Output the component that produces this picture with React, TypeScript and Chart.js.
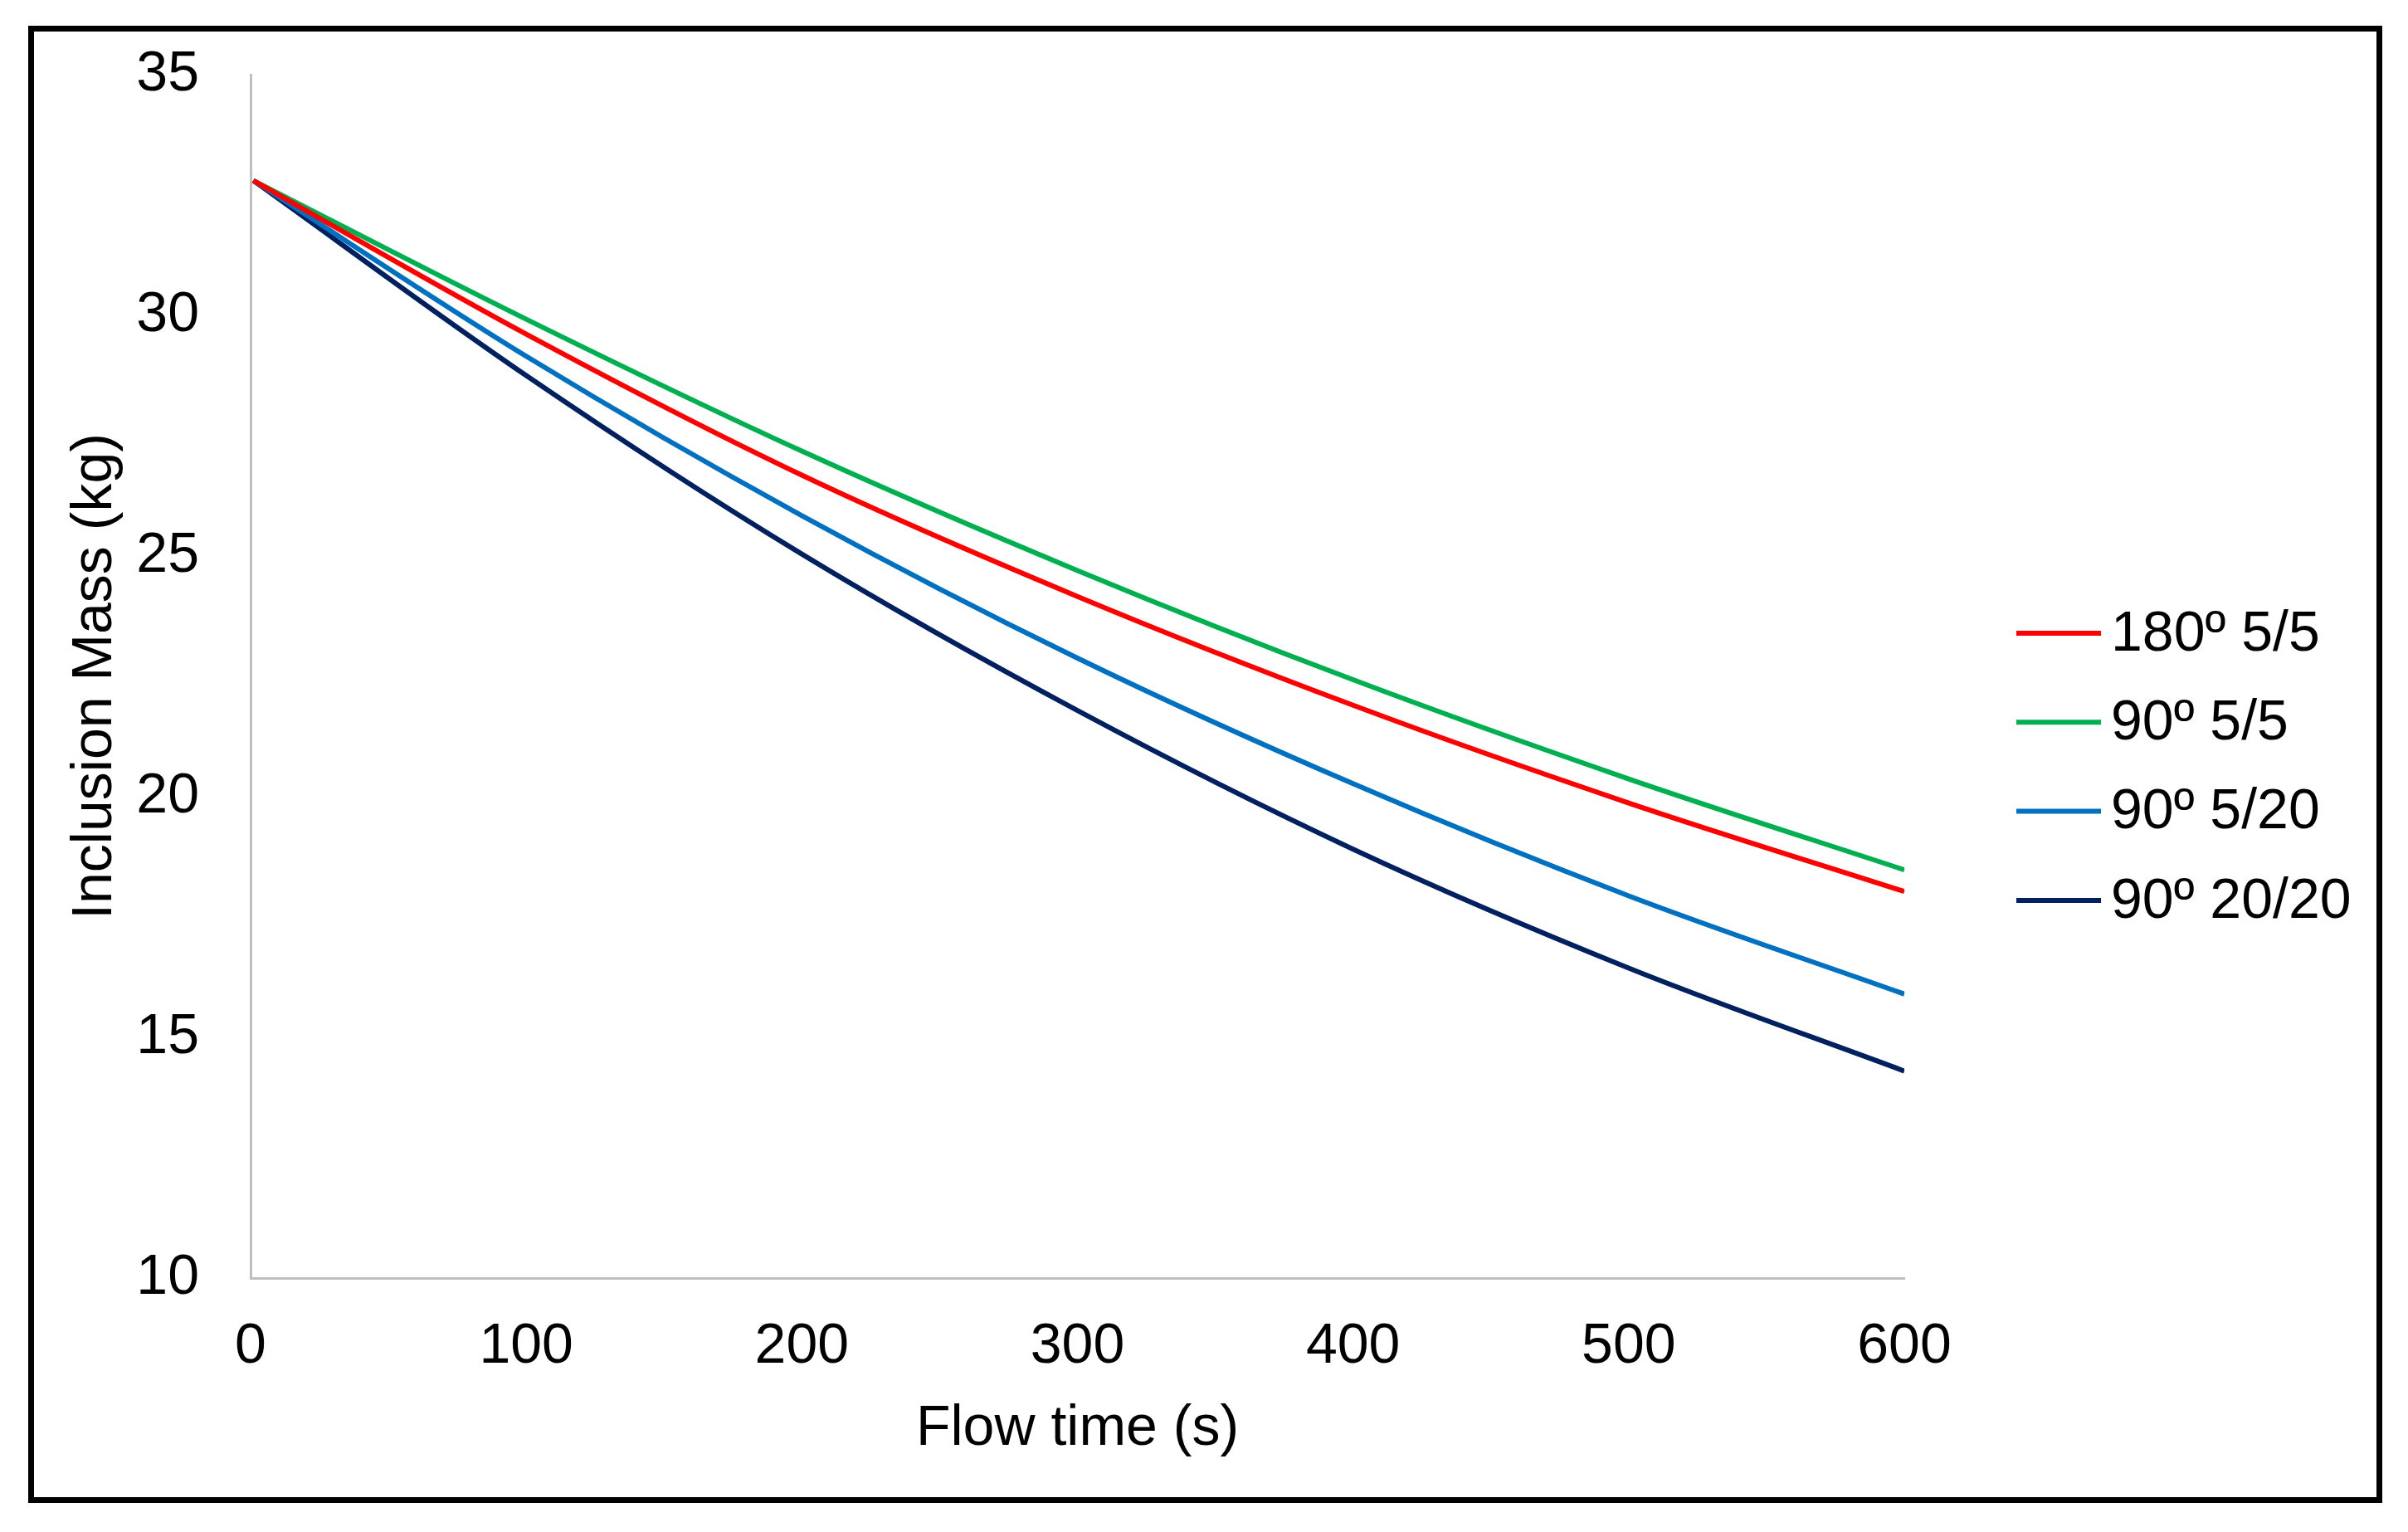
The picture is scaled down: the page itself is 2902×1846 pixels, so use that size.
import React, { useEffect, useRef } from "react";
import { Chart, registerables } from "chart.js";

Chart.register(...registerables);

// ---- data ----
const flowTime = [1, 100, 200, 300, 400, 500, 600];
const seriesNames = ["180º 5/5", "90º 5/5", "90º 5/20", "90º 20/20"];
const mass180_5_5 = [32.8, 29.61, 26.68, 24.16, 21.9, 19.87, 18.03];
const mass90_5_5 = [32.8, 29.92, 27.18, 24.7, 22.43, 20.37, 18.48];
const mass90_5_20 = [32.8, 29.15, 25.84, 22.88, 20.27, 17.94, 15.9];
const mass90_20_20 = [32.8, 28.75, 25.04, 21.79, 18.91, 16.44, 14.3];
const seriesColors = ["#FF0000", "#00B050", "#0070C0", "#002060"];
const xTickValues = [0, 100, 200, 300, 400, 500, 600];
const yTickValues = [10, 15, 20, 25, 30, 35];
const xTitle = "Flow time (s)";
const yTitle = "Inclusion Mass (kg)";

const FONT = '"Liberation Sans", Arial, sans-serif';
const FONT_SIZE = 68;

const W = 2902;
const H = 1846;

const framePlugin = {
  id: "frame",
  afterDraw(chart: any) {
    const ctx = chart.ctx;
    ctx.save();
    ctx.strokeStyle = "#000000";
    ctx.lineWidth = 7;
    ctx.strokeRect(37.5, 34.5, 2830, 1773);
    ctx.restore();
  },
};

const sideLegendPlugin = {
  id: "sideLegend",
  afterDraw(chart: any) {
    const ctx = chart.ctx;
    ctx.save();
    chart.data.datasets.forEach((ds: any, i: number) => {
      const y = 763 + i * 107.3;
      ctx.strokeStyle = ds.borderColor;
      ctx.lineWidth = 6;
      ctx.lineCap = "butt";
      ctx.beginPath();
      ctx.moveTo(2430, y);
      ctx.lineTo(2532, y);
      ctx.stroke();
      ctx.fillStyle = "#000000";
      ctx.font = `${FONT_SIZE}px ${FONT}`;
      ctx.textAlign = "left";
      ctx.textBaseline = "middle";
      ctx.fillText(ds.label, 2544, y + 2);
    });
    ctx.restore();
  },
};

export default function App() {
  const ref = useRef<HTMLCanvasElement | null>(null);

  useEffect(() => {
    if (!ref.current) return;
    const allSeries = [mass180_5_5, mass90_5_5, mass90_5_20, mass90_20_20];
    const datasets = allSeries.map((vals, i) => ({
      label: seriesNames[i],
      data: flowTime.map((t, j) => ({ x: t, y: vals[j] })),
      borderColor: seriesColors[i],
      backgroundColor: seriesColors[i],
      borderWidth: 6,
      pointRadius: 0,
      fill: false,
      cubicInterpolationMode: "monotone" as const,
    }));

    const chart = new Chart(ref.current, {
      type: "line",
      data: { datasets },
      plugins: [framePlugin, sideLegendPlugin],
      options: {
        animation: false,
        responsive: false,
        devicePixelRatio: 1,
        layout: { padding: { top: 90, right: 607, bottom: 0, left: 0 } },
        plugins: {
          legend: { display: false },
          tooltip: { enabled: false },
        },
        scales: {
          x: {
            type: "linear",
            min: 0,
            max: 600,
            afterFit: (s: any) => {
              s.height = 306;
            },
            afterBuildTicks: (s: any) => {
              s.ticks = xTickValues.map((v) => ({ value: v }));
            },
            grid: { display: false, drawTicks: false },
            border: { display: true, color: "#BFBFBF", width: 3 },
            ticks: {
              color: "#000000",
              padding: 42,
              font: { family: FONT, size: FONT_SIZE },
              maxRotation: 0,
            },
            title: {
              display: true,
              text: xTitle,
              color: "#000000",
              font: { family: FONT, size: FONT_SIZE },
              padding: { top: 0, bottom: 83 },
            },
          },
          y: {
            type: "linear",
            min: 10,
            max: 35,
            afterFit: (s: any) => {
              s.width = 302;
              s.paddingTop = 41;
              s.paddingBottom = 41;
            },
            afterBuildTicks: (s: any) => {
              s.ticks = yTickValues.map((v) => ({ value: v }));
            },
            grid: { display: false, drawTicks: false },
            border: { display: true, color: "#BFBFBF", width: 3 },
            ticks: {
              color: "#000000",
              padding: 62,
              font: { family: FONT, size: FONT_SIZE },
            },
            title: {
              display: true,
              text: yTitle,
              color: "#000000",
              font: { family: FONT, size: FONT_SIZE },
              padding: { top: 74, bottom: 0 },
            },
          },
        },
      },
    });

    return () => chart.destroy();
  }, []);

  return (
    <div style={{ position: "absolute", left: 0, top: 0, width: W, height: H, background: "#ffffff" }}>
      <canvas ref={ref} width={W} height={H} style={{ width: W, height: H, display: "block" }} />
    </div>
  );
}
